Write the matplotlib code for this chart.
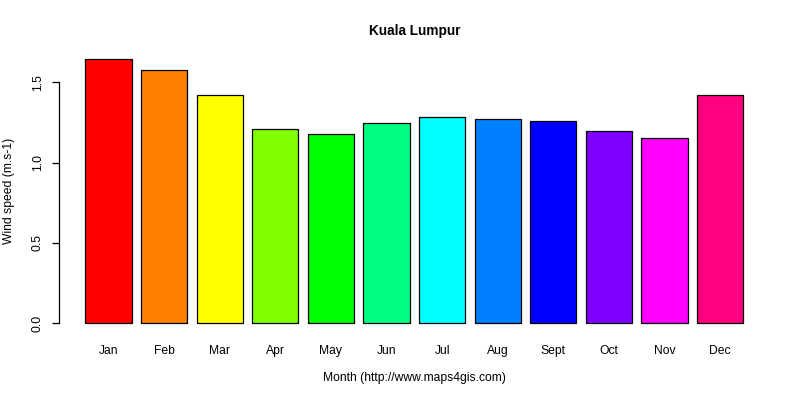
import matplotlib
matplotlib.use("Agg")
import matplotlib.pyplot as plt
import numpy as np

plt.rcParams['font.family'] = ['Liberation Sans', 'DejaVu Sans']

months = ["Jan", "Feb", "Mar", "Apr", "May", "Jun", "Jul", "Aug", "Sept", "Oct", "Nov", "Dec"]
wind = [1.643, 1.575, 1.419, 1.211, 1.176, 1.245, 1.282, 1.270, 1.257, 1.195, 1.151, 1.419]
colors = ["#FF0000", "#FF8000", "#FFFF00", "#80FF00", "#00FF00", "#00FF80",
          "#00FFFF", "#0080FF", "#0000FF", "#8000FF", "#FF00FF", "#FF0080"]
yticks = [0.0, 0.5, 1.0, 1.5]
title = "Kuala Lumpur"
xlab = "Month (http://www.maps4gis.com)"
ylab = "Wind speed (m.s-1)"

W, H = 800, 400
fig = plt.figure(figsize=(8, 4), dpi=100)
left, right, top, bottom = 59, 769.6, 48.7, 333.9
ax = fig.add_axes([left / W, 1 - bottom / H, (right - left) / W, (bottom - top) / H])

# R barplot geometry: width 1, space 0.2
x = 0.2 + np.arange(len(months)) * 1.2 + 0.5
ax.bar(x, wind, width=1.0, color=colors, edgecolor="black", linewidth=0.9)

xmin, xmax = x[0] - 0.5, x[-1] + 0.5
xr = xmax - xmin
ax.set_xlim(xmin - 0.04 * xr, xmax + 0.04 * xr)
ymax = max(wind)
ax.set_ylim(-0.04 * ymax, ymax * 1.04)

for s in ["top", "right", "bottom"]:
    ax.spines[s].set_visible(False)
ax.spines["left"].set_bounds(0.0, 1.5)
ax.spines["left"].set_linewidth(0.9)

fs = 8.7
ax.set_yticks(yticks)
ax.set_yticklabels(["0.0", "0.5", "1.0", "1.5"], rotation=90, va="center", fontsize=fs)
ax.tick_params(axis="y", length=5.0, width=0.9, pad=6.0)

ax.set_xticks(x)
ax.set_xticklabels(months, fontsize=fs)
ax.tick_params(axis="x", length=0, pad=8.0)

cx = (left + right) / 2 / W
fig.text(cx, 1 - 31 / H, title, ha="center", va="center", fontsize=9.8, fontweight="bold")
fig.text(cx, 1 - 378 / H, xlab, ha="center", va="center", fontsize=fs)
fig.text(9.5 / W, 1 - (top + bottom) / 2 / H, ylab, ha="center", va="center", rotation=90, fontsize=fs)

fig.savefig("out.png", dpi=100)
